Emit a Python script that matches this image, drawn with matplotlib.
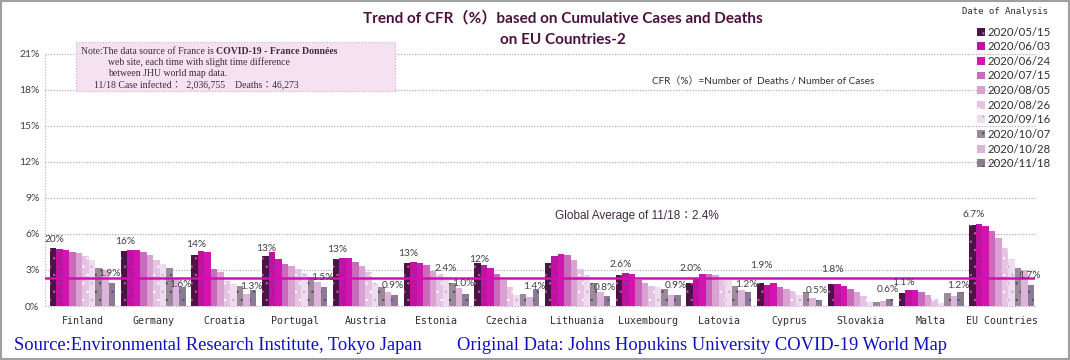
import matplotlib
matplotlib.use('Agg')
import matplotlib.pyplot as plt
import numpy as np
from matplotlib.patches import Rectangle

countries = ['Finland', 'Germany', 'Croatia', 'Portugal', 'Austria', 'Estonia', 'Czechia',
             'Lithuania', 'Luxembourg', 'Latovia', 'Cyprus', 'Slovakia', 'Malta', 'EU Countries']
dates = ['2020/05/15', '2020/06/03', '2020/06/24', '2020/07/15', '2020/08/05',
         '2020/08/26', '2020/09/16', '2020/10/07', '2020/10/28', '2020/11/18']

# CFR (%) per date, one value per country
d0515 = [4.8, 4.55, 4.25, 4.2, 3.9, 3.6, 3.55, 3.55, 2.6, 1.95, 1.9, 1.8, 1.05, 6.75]
d0603 = [4.7, 4.65, 4.55, 4.45, 4.0, 3.7, 3.4, 4.2, 2.75, 2.3, 1.75, 1.8, 1.35, 6.85]
d0624 = [4.65, 4.65, 4.5, 3.9, 4.0, 3.55, 3.2, 4.3, 2.7, 2.7, 1.9, 1.65, 1.35, 6.65]
d0715 = [4.5, 4.5, 3.1, 3.5, 3.7, 3.4, 2.65, 4.25, 2.2, 2.65, 1.6, 1.45, 1.2, 6.2]
d0805 = [4.4, 4.25, 2.8, 3.3, 3.3, 2.9, 2.2, 3.85, 1.9, 2.55, 1.4, 1.2, 0.95, 5.65]
d0826 = [4.2, 3.8, 2.1, 3.1, 2.85, 2.7, 1.6, 3.1, 1.65, 2.2, 1.25, 0.8, 0.55, 4.85]
d0916 = [3.85, 3.5, 1.8, 2.75, 1.9, 2.4, 0.9, 2.6, 1.55, 2.2, 0.95, 0.3, 0.25, 3.95]
d1007 = [3.2, 3.15, 1.65, 2.45, 1.6, 1.9, 1.0, 1.9, 1.45, 1.65, 1.2, 0.35, 1.1, 3.15]
d1028 = [3.0, 2.3, 1.0, 2.0, 1.2, 1.5, 0.75, 1.2, 0.95, 1.35, 0.65, 0.45, 0.8, 3.0]
d1118 = [1.9, 1.6, 1.3, 1.6, 0.9, 1.0, 1.4, 0.8, 0.9, 1.2, 0.5, 0.6, 1.15, 1.75]
series = [d0515, d0603, d0624, d0715, d0805, d0826, d0916, d1007, d1028, d1118]

global_avg = 2.3
top_labels = ['20%', '16%', '14%', '13%', '13%', '13%', '12%', '', '2.6%', '2.0%', '1.9%', '1.8%', '1.1%', '6.7%']
top_label_y = [5.5, 5.36, 5.08, 4.75, 4.67, 4.33, 3.9, 0, 3.42, 3.1, 3.4, 3.05, 1.95, 7.58]
end_labels = ['1.9%', '1.6%', '1.3%', '1.5%', '0.9%', '1.0%', '1.4%', '0.8%', '0.9%', '1.2%', '0.5%', '0.6%', '1.2%', '1.7%']
end_label_y = [2.7, 1.8, 1.6, 2.35, 1.7, 1.83, 1.6, 1.55, 1.7, 1.75, 1.33, 1.4, 1.67, 2.5]

colors = ['#4b1446', '#c4109e', '#d214b0', '#c96abb', '#d9a2d2',
          '#e4c4e2', '#efdcee', '#9a8a9a', '#dcb4da', '#8c7c8e']
hatch_cols = ['#d050b0', '#7040c8', '#d214b0', '#c96abb', '#d9a2d2',
              '#ffffff', '#d8a8d8', '#5a4a5a', '#dcb4da', '#4848c0']
hatches = ['..', '..', None, None, None, '..', '..', '..', None, '..']

plt.rcParams['hatch.linewidth'] = 0.5
fig = plt.figure(figsize=(10.7, 3.6), dpi=100)
ax = fig.add_axes([45 / 1070, 54 / 360, 990 / 1070, 252.5 / 360])

x = np.arange(len(countries))
w = 0.092
for j, vals in enumerate(series):
    ax.bar(x - 0.46 + (j + 0.5) * w, vals, w, color=colors[j], hatch=hatches[j],
           edgecolor=hatch_cols[j], linewidth=0, label=dates[j], zorder=2)

ax.set_xlim(-0.53, 13.47)
ax.set_ylim(0, 21)
ax.set_yticks(np.arange(0, 22, 3))
ax.set_yticklabels([f'{v}%' for v in range(0, 22, 3)], fontsize=7.5, color='#404040', family='Lato')
ax.set_xticks(x)
ax.set_xticklabels(countries, family='DejaVu Sans Mono', fontsize=7.2, color='#303030')
ax.tick_params(length=0, pad=4)
ax.tick_params(axis='x', pad=7)
for s in ax.spines.values():
    s.set_visible(False)
for v in range(0, 22, 3):
    ax.axhline(v, color='#c890c8', lw=0.8, ls=(0, (1, 1.5)), zorder=1, clip_on=False)
ax.axvline(-0.53, color='#c8a8c8', lw=0.8, ls=(0, (1, 1.5)), zorder=1)

ax.axhline(global_avg, color='#d010b0', lw=1.8, zorder=4)
ax.text(0.598, 7.5 / 21, 'Global Average of 11/18：2.4%', transform=ax.transAxes, ha='center',
        va='center', fontsize=8.5, color='#402a40', family=['Liberation Sans', 'Noto Sans CJK JP'])

for i in range(len(countries)):
    if top_labels[i]:
        ax.text(i - 0.46 + 0.7 * w, top_label_y[i], top_labels[i], ha='center', va='center',
                fontsize=7.3, color='#404040', family='Lato', zorder=5)
    ax.text(i - 0.46 + 9.2 * w, end_label_y[i], end_labels[i], ha='center', va='center',
            fontsize=7.3, color='#404040', family='Lato', zorder=5)
ax.text(5 - 0.46 + 6.5 * w, 3.1, '2.4%', ha='center', va='center',
        fontsize=7.3, color='#404040', family='Lato', zorder=5)

# title
fig.text(563 / 1070, 1 - 18 / 360, 'Trend of CFR（%）based on Cumulative Cases and Deaths',
         ha='center', va='center', fontsize=11, fontweight='bold', color='#4a1040',
         family=['Lato', 'Noto Sans CJK JP'])
fig.text(563 / 1070, 1 - 40 / 360, 'on EU Countries-2', ha='center', va='center', fontsize=11,
         fontweight='bold', color='#4a1040', family='Lato')
fig.text(763 / 1070, 1 - 81 / 360, 'CFR（%）=Number of  Deaths / Number of Cases', ha='center',
         va='center', fontsize=7.2, color='#303030', family=['Lato', 'Noto Sans CJK JP'])

# note box
fig.patches.append(Rectangle((76 / 1070, 1 - 91 / 360), 319 / 1070, 49 / 360, transform=fig.transFigure,
                             facecolor='#f4e2f0', edgecolor='#d8a8d0', lw=0.8, ls=':', zorder=3))
nfont = dict(fontsize=7, color='#402a40', family='Liberation Serif', va='center', zorder=4)
t1 = fig.text(81 / 1070, 1 - 51 / 360, 'Note:The data source of France is ', **nfont)
fig.canvas.draw()
bb = t1.get_window_extent()
fig.text(bb.x1 / 1070, 1 - 51 / 360, 'COVID-19 - France Données', fontweight='bold', **nfont)
fig.text(108 / 1070, 1 - 62 / 360, 'web site, each time with slight time difference', **nfont)
fig.text(108 / 1070, 1 - 74 / 360, 'between JHU world map data.', **nfont)
fig.text(94 / 1070, 1 - 86 / 360, '11/18 Case infected：  2,036,755    Deaths：46,273',
         **{**nfont, 'family': ['Liberation Serif', 'Noto Sans CJK JP']})

# legend
fig.text(1005 / 1070, 1 - 12 / 360, 'Date of Analysis', ha='center', va='center', fontsize=6.5,
         family='DejaVu Sans Mono', color='#303030')
leg = fig.legend(loc='upper left', bbox_to_anchor=(972 / 1070, 1 - 22 / 360), frameon=False,
                 fontsize=8.2, handlelength=0.7, handleheight=0.7, handletextpad=0.3,
                 labelspacing=0.32, borderaxespad=0)
for t in leg.get_texts():
    t.set_family('Lato')
    t.set_color('#303030')

# source
fig.text(14 / 1070, 1 - 345 / 360, 'Source:Environmental Research Institute, Tokyo Japan', va='center',
         fontsize=13.3, color='#1010c0', family='Liberation Serif')
fig.text(457 / 1070, 1 - 345 / 360, 'Original Data: Johns Hopukins University COVID-19 World Map',
         va='center', fontsize=13.3, color='#1010c0', family='Liberation Serif')

fig.patches.append(Rectangle((0.001, 0.002), 0.998, 0.996, transform=fig.transFigure,
                             fill=False, edgecolor='#a0a0a0', lw=1.5))
fig.savefig('out.png', dpi=100)
